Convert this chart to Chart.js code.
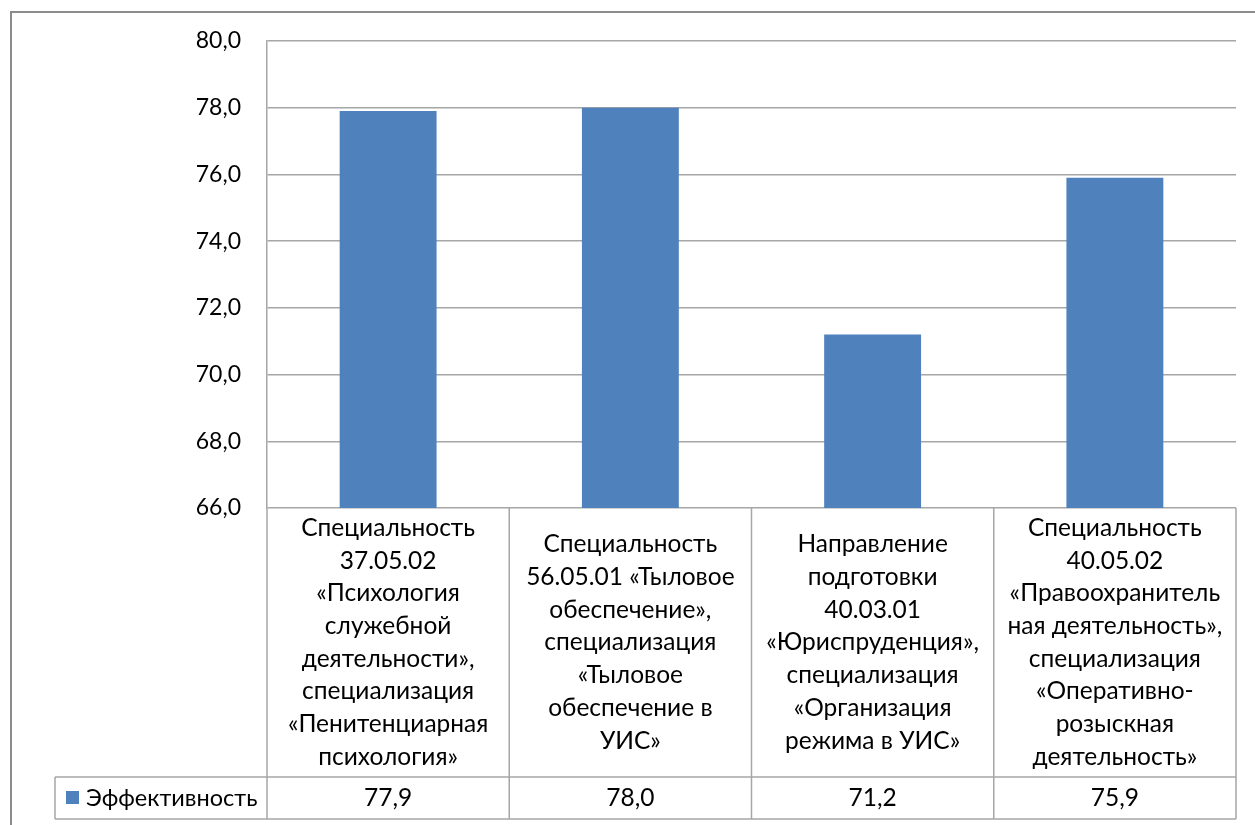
<!DOCTYPE html>
<html>
<head>
<meta charset="utf-8">
<script src="https://cdn.jsdelivr.net/npm/chart.js@4"></script>
<style>
  body { margin: 0; background: #fff; }
  canvas { display: block; }
</style>
</head>
<body>
<canvas id="chart" width="1255" height="825"></canvas>
<script>
const seriesName = "Эффективность";
const categories = [
    ["Специальность", "37.05.02", "«Психология", "служебной", "деятельности»,", "специализация", "«Пенитенциарная", "психология»"],
    ["Специальность", "56.05.01 «Тыловое", "обеспечение»,", "специализация", "«Тыловое", "обеспечение в", "УИС»"],
    ["Направление", "подготовки", "40.03.01", "«Юриспруденция»,", "специализация", "«Организация", "режима в УИС»"],
    ["Специальность", "40.05.02", "«Правоохранитель", "ная деятельность»,", "специализация", "«Оперативно-", "розыскная", "деятельность»"]
];
const values = [77.9, 78.0, 71.2, 75.9];

const FONT = 'Lato, "Open Sans", sans-serif';
const LINE = "#a6a6a6";
const fmt = v => v.toFixed(1).replace(".", ",");

// frame + data table under the plot
const tablePlugin = {
    id: "dataTable",
    afterDraw(chart) {
        const ctx = chart.ctx;
        const x = chart.scales.x;
        const area = chart.chartArea;
        const rowTop = 777, rowBottom = 819, legendLeft = 55;
        const edges = [];
        for (let i = 0; i <= categories.length; i++) {
            edges.push(x.getPixelForValue(i - 0.5));
        }

        ctx.save();
        // outer frame
        ctx.strokeStyle = "#8c8c8c";
        ctx.lineWidth = 2;
        ctx.strokeRect(11, 12, 1260, 830);

        // table lines
        ctx.strokeStyle = LINE;
        ctx.lineWidth = 1.5;
        ctx.beginPath();
        ctx.moveTo(legendLeft, rowTop); ctx.lineTo(edges[edges.length - 1], rowTop);
        ctx.moveTo(legendLeft, rowBottom); ctx.lineTo(edges[edges.length - 1], rowBottom);
        ctx.moveTo(legendLeft, rowTop); ctx.lineTo(legendLeft, rowBottom);
        edges.forEach(e => {
            ctx.moveTo(e, area.bottom); ctx.lineTo(e, rowBottom);
        });
        ctx.stroke();

        // category labels
        ctx.fillStyle = "#000";
        ctx.font = "24.5px " + FONT;
        ctx.textAlign = "center";
        ctx.textBaseline = "middle";
        const lh = 32.7, mid = 642.5;
        categories.forEach((lines, i) => {
            const cx = x.getPixelForValue(i);
            const y0 = mid - (lines.length - 1) * lh / 2;
            lines.forEach((t, j) => ctx.fillText(t, cx, y0 + j * lh));
        });

        // values row
        const vy = (rowTop + rowBottom) / 2;
        values.forEach((v, i) => ctx.fillText(fmt(v), x.getPixelForValue(i), vy));

        // legend key
        ctx.fillStyle = "#4f81bd";
        ctx.fillRect(66, 791, 13, 13);
        ctx.fillStyle = "#000";
        ctx.font = "23.5px " + FONT;
        ctx.textAlign = "left";
        ctx.fillText(seriesName, 86, vy);
        ctx.restore();
    }
};

new Chart(document.getElementById("chart"), {
    type: "bar",
    data: {
        labels: categories.map(c => c.join(" ")),
        datasets: [{
            label: seriesName,
            data: values,
            backgroundColor: "#4f81bd",
            barPercentage: 0.4,
            categoryPercentage: 1
        }]
    },
    options: {
        responsive: false,
        animation: false,
        devicePixelRatio: 1,
        layout: { padding: { top: 41, right: 19, bottom: 317, left: 0 } },
        plugins: {
            legend: { display: false },
            tooltip: { enabled: false }
        },
        scales: {
            x: {
                display: false
            },
            y: {
                min: 66,
                max: 80,
                afterFit: scale => { scale.width = 267; },
                ticks: {
                    stepSize: 2,
                    padding: 26,
                    color: "#000",
                    font: { family: FONT, size: 23 },
                    callback: v => fmt(v)
                },
                grid: { color: LINE, lineWidth: 1.5, drawTicks: false },
                border: { display: true, color: LINE, width: 1.5 }
            }
        }
    },
    plugins: [tablePlugin]
});
</script>
</body>
</html>
